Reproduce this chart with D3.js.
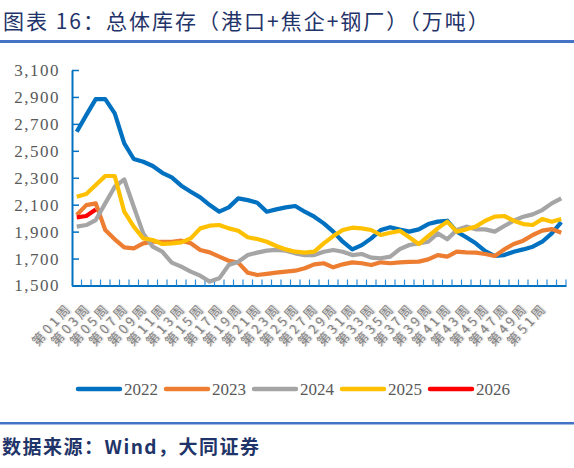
<!DOCTYPE html>
<html>
<head>
<meta charset="utf-8">
<script src="https://cdn.jsdelivr.net/npm/d3@7.9.0/dist/d3.min.js"></script>
<style>
  body { margin: 0; background: #fff; }
  svg { display: block; }
</style>
</head>
<body>
<svg id="chart" width="574" height="468"></svg>
<script>
// weeks 第01周 .. 第52周
const weeks = d3.range(1, 53).map(w => `第${String(w).padStart(2, '0')}周`);
const yTicks = [1500, 1700, 1900, 2100, 2300, 2500, 2700, 2900, 3100];

const y2022 = [2641,2765,2884,2884,2778,2555,2439,2419,2387,2337,2303,2241,2196,2154,2097,2048,2080,2147,2134,2115,2048,2065,2080,2090,2048,2011,1961,1900,1825,1768,1800,1850,1912,1932,1915,1900,1917,1956,1974,1981,1900,1858,1813,1756,1719,1726,1751,1768,1788,1825,1887,1970];
const y2023 = [2023,2097,2110,1912,1843,1783,1776,1813,1825,1825,1825,1833,1813,1764,1746,1714,1684,1670,1595,1578,1586,1595,1603,1610,1628,1657,1665,1635,1657,1672,1665,1652,1672,1665,1672,1675,1677,1694,1726,1714,1751,1746,1744,1734,1719,1768,1808,1833,1875,1907,1919,1892];
const y2024 = [1937,1949,1986,2110,2233,2288,2085,1887,1788,1751,1670,1640,1603,1573,1529,1553,1652,1677,1726,1744,1759,1764,1759,1739,1726,1726,1751,1764,1751,1726,1734,1707,1702,1714,1770,1801,1813,1825,1887,1843,1912,1937,1917,1917,1900,1942,1981,2011,2028,2060,2110,2147];
const y2025 = [2159,2179,2246,2313,2313,2048,1937,1850,1838,1808,1813,1820,1850,1924,1944,1949,1924,1906,1858,1845,1825,1793,1768,1751,1744,1751,1813,1867,1912,1929,1924,1912,1875,1892,1906,1858,1808,1867,1924,1974,1900,1917,1937,1981,2011,2016,1981,1956,1949,1994,1974,1994];
const y2026 = [2006,2016,2065];

const seriesNames = ['2022', '2023', '2024', '2025', '2026'];
const seriesValues = [y2022, y2023, y2024, y2025, y2026];
const colors = ['#0070C0', '#ED7D31', '#A5A5A5', '#FFC000', '#FF0000'];

const svg = d3.select('#chart');
const cjk = '"Noto Sans CJK SC", sans-serif';
const serif = '"Liberation Serif", "DejaVu Serif", serif';

// title + rules
svg.append('text')
  .attr('x', 3).attr('y', 29)
  .attr('font-family', cjk).attr('font-size', 21)
  .attr('letter-spacing', 2)
  .attr('fill', '#1F3468')
  .text('图表 16：总体库存（港口+焦企+钢厂）（万吨）');
svg.append('rect').attr('x', 0).attr('y', 40).attr('width', 574).attr('height', 3).attr('fill', '#4472C4');
svg.append('rect').attr('x', 0).attr('y', 422).attr('width', 574).attr('height', 2.5).attr('fill', '#4472C4');
svg.append('text')
  .attr('x', 2).attr('y', 454)
  .attr('font-family', cjk).attr('font-size', 19).attr('font-weight', 'bold')
  .attr('letter-spacing', 1.5)
  .attr('fill', '#1F3468')
  .text('数据来源：Wind，大同证券');

const plotLeft = 72, plotRight = 566, plotTop = 70, plotBottom = 285.5;

const x = d3.scaleBand().domain(weeks).range([plotLeft, plotRight]).padding(0);
const y = d3.scaleLinear().domain([1500, 3100]).range([plotBottom, plotTop]);

// y axis with inside ticks
const yAxis = svg.append('g')
  .attr('transform', `translate(${plotLeft},0)`)
  .call(d3.axisLeft(y).tickValues(yTicks).tickSizeInner(-7).tickSizeOuter(0).tickPadding(12)
    .tickFormat(d3.format(',')));
yAxis.select('.domain').attr('stroke', '#0070C0').attr('stroke-width', 2);
yAxis.selectAll('.tick line').attr('stroke', '#0070C0').attr('stroke-width', 1.5);
yAxis.selectAll('.tick text')
  .attr('font-family', serif).attr('font-size', 17).attr('fill', '#595959')
  .attr('letter-spacing', 1.5);

// x axis: labels on every other week, ticks at week boundaries
const xAxis = svg.append('g')
  .attr('transform', `translate(0,${plotBottom})`)
  .call(d3.axisBottom(x).tickValues(weeks.filter((d, i) => i % 2 === 0)).tickSize(0).tickPadding(0));
xAxis.select('.domain').attr('stroke', '#0070C0').attr('stroke-width', 2);
xAxis.selectAll('.tick text')
  .attr('font-family', cjk).attr('font-size', 13).attr('fill', '#808080')
  .attr('letter-spacing', 3)
  .attr('text-anchor', 'end')
  .attr('dy', 0)
  .attr('transform', 'translate(-4,22.5) rotate(-48)')
  .style('text-shadow', '1px 1px 1px #c8c8c8');

svg.append('g').selectAll('line')
  .data(weeks)
  .join('line')
  .attr('x1', d => x(d) + x.step()).attr('x2', d => x(d) + x.step())
  .attr('y1', plotBottom).attr('y2', plotBottom - 6)
  .attr('stroke', '#2E8BD8').attr('stroke-width', 1.2);

// series lines
const line = d3.line()
  .x((d, i) => x(weeks[i]) + x.bandwidth() / 2)
  .y(d => y(d));

svg.append('g').selectAll('path')
  .data(seriesValues)
  .join('path')
  .attr('d', d => line(d))
  .attr('fill', 'none')
  .attr('stroke', (d, i) => colors[i])
  .attr('stroke-width', 4.2)
  .attr('stroke-linejoin', 'round');

// legend
const legend = svg.append('g').selectAll('g')
  .data(seriesNames)
  .join('g')
  .attr('transform', (d, i) => `translate(${78 + i * 88},389)`);
legend.append('line')
  .attr('x1', 0).attr('x2', 42)
  .attr('stroke', (d, i) => colors[i])
  .attr('stroke-width', 4.5).attr('stroke-linecap', 'round');
legend.append('text')
  .attr('x', 46).attr('y', 6)
  .attr('font-family', serif).attr('font-size', 17).attr('fill', '#595959')
  .text(d => d);
</script>
</body>
</html>
